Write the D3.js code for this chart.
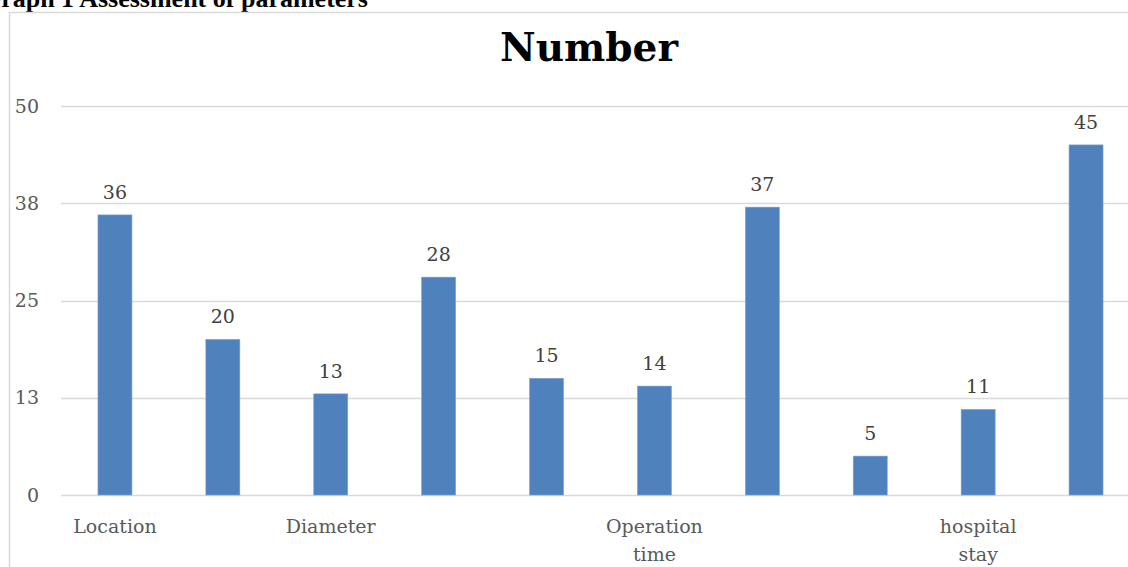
<!DOCTYPE html>
<html>
<head>
<meta charset="utf-8">
<script src="https://cdn.jsdelivr.net/npm/d3@7"></script>
<style>
html,body{margin:0;padding:0;background:#fff;overflow:hidden;}
svg{display:block;}
</style>
</head>
<body>
<svg id="chart" width="1128" height="567"></svg>
<script>
const categories = ["Location", "", "Diameter", "", "", "Operation time", "", "", "hospital stay", ""];
const values = [36, 20, 13, 28, 15, 14, 37, 5, 11, 45];
const yTickValues = [0, 12.5, 25, 37.5, 50];
const yTickLabels = ["0", "13", "25", "38", "50"];
const chartTitle = "Number";
const pageHeading = "Graph 1 Assessment of parameters";

const svg = d3.select("#chart");
const serif = "'DejaVu Serif', serif";

// page heading (cut off at top-left, as in the source document)
svg.append("text")
  .attr("x", 368).attr("y", 7)
  .attr("text-anchor", "end")
  .attr("font-family", "'Liberation Serif', serif")
  .attr("font-weight", "bold")
  .attr("font-size", 26)
  .attr("fill", "#000")
  .text(pageHeading);

// chart frame
svg.append("rect")
  .attr("x", 9.5).attr("y", 12.5)
  .attr("width", 1200).attr("height", 700)
  .attr("fill", "none")
  .attr("stroke", "#d9d9d9")
  .attr("stroke-width", 1.5);

const x = d3.scaleBand()
  .domain(d3.range(categories.length))
  .range([61, 1140])
  .paddingInner(0.685)
  .paddingOuter(0.3425);

const y = d3.scaleLinear().domain([0, 50]).range([495, 106]);

// gridlines
svg.append("g")
  .selectAll("line")
  .data(yTickValues)
  .join("line")
  .attr("x1", 61).attr("x2", 1140)
  .attr("y1", d => Math.round(y(d)) + 0.5)
  .attr("y2", d => Math.round(y(d)) + 0.5)
  .attr("stroke", "#d9d9d9")
  .attr("stroke-width", 1.5);

// y tick labels
svg.append("g")
  .selectAll("text")
  .data(yTickValues)
  .join("text")
  .attr("x", 39)
  .attr("y", d => y(d))
  .attr("dy", "0.35em")
  .attr("text-anchor", "end")
  .attr("font-family", serif)
  .attr("font-size", 19)
  .attr("fill", "#595959")
  .text((d, i) => yTickLabels[i]);

// bars
svg.append("g")
  .selectAll("rect")
  .data(values)
  .join("rect")
  .attr("x", (d, i) => x(i))
  .attr("y", d => y(d))
  .attr("width", x.bandwidth())
  .attr("height", d => y(0) - y(d))
  .attr("fill", "#4f81bd")
  .attr("stroke", "#7ea1cf")
  .attr("stroke-width", 0.6);

// data labels
svg.append("g")
  .selectAll("text")
  .data(values)
  .join("text")
  .attr("x", (d, i) => x(i) + x.bandwidth() / 2)
  .attr("y", d => y(d) - 16)
  .attr("text-anchor", "middle")
  .attr("font-family", serif)
  .attr("font-size", 19)
  .attr("fill", "#404040")
  .text(d => d);

// category labels (wrapped)
const catG = svg.append("g");
categories.forEach((c, i) => {
  if (!c) return;
  const words = c.split(" ");
  const t = catG.append("text")
    .attr("text-anchor", "middle")
    .attr("font-family", serif)
    .attr("font-size", 19)
    .attr("fill", "#595959");
  const cx = x(i) + x.bandwidth() / 2;
  words.forEach((w, k) => {
    t.append("tspan").attr("x", cx).attr("y", 533 + k * 28).text(w);
  });
});

// title
svg.append("text")
  .attr("x", 589).attr("y", 61)
  .attr("text-anchor", "middle")
  .attr("font-family", serif)
  .attr("font-weight", "bold")
  .attr("font-size", 39)
  .attr("fill", "#000")
  .text(chartTitle);
</script>
</body>
</html>
